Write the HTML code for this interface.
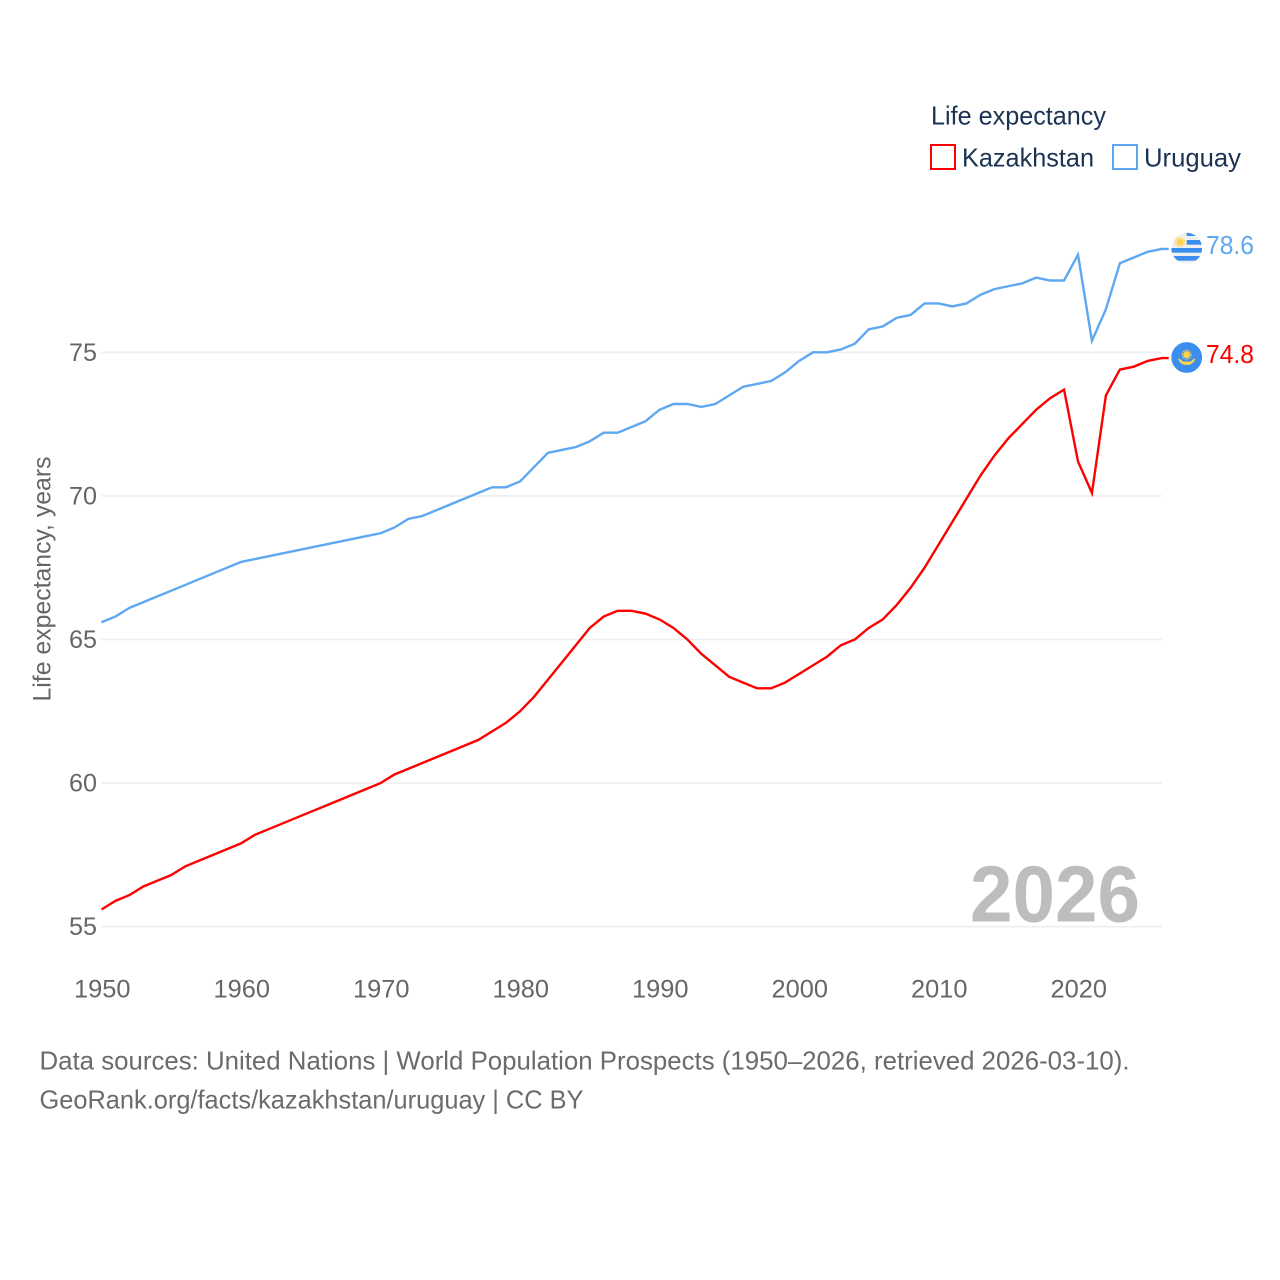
<!DOCTYPE html>
<html lang="en">
<head>
<meta charset="utf-8">
<title>Life expectancy: Kazakhstan and Uruguay</title>
<style>
html,body{margin:0;padding:0;background:#fff;width:1280px;height:1280px;overflow:hidden}
svg{display:block}
text{font-family:"Liberation Sans",sans-serif}
</style>
</head>
<body>
<svg id="chart" xmlns="http://www.w3.org/2000/svg" width="1280" height="1280" viewBox="0 0 1280 1280">
  <defs>
    <clipPath id="flag-clip-uy"><circle cx="1186.7" cy="248.2" r="15.4"></circle></clipPath>
  </defs>
  <g id="grid"></g>
  <g id="yticks"></g>
  <g id="xticks"></g>
  <text transform="translate(50.5,579) rotate(-90)" text-anchor="middle" font-size="25" fill="#666666" textLength="245" lengthAdjust="spacingAndGlyphs">Life expectancy, years</text>
  <text id="year-label" x="970" y="921.5" font-size="80" font-weight="bold" fill="#bdbdbd" textLength="170" lengthAdjust="spacingAndGlyphs"></text>
  <g id="series"></g>

  <g>
    <text x="931" y="124.5" font-size="26" fill="#1a3352" textLength="175" lengthAdjust="spacingAndGlyphs">Life expectancy</text>
    <g>
      <rect x="931" y="145" width="24" height="24" fill="none" stroke="#ff0000" stroke-width="2"></rect>
      <text x="962" y="166.5" font-size="26" fill="#1a3352" textLength="132" lengthAdjust="spacingAndGlyphs">Kazakhstan</text>
    </g>
    <g>
      <rect x="1113" y="145" width="24" height="24" fill="none" stroke="#5ea8f2" stroke-width="2"></rect>
      <text x="1144" y="166.5" font-size="26" fill="#1a3352" textLength="97" lengthAdjust="spacingAndGlyphs">Uruguay</text>
    </g>
  </g>

  <g clip-path="url(#flag-clip-uy)">
    <rect x="1171" y="232" width="32" height="33" fill="#f0f0f0"></rect>
    <rect x="1186.7" y="232" width="17" height="4" fill="#3b8eee"></rect>
    <rect x="1186.7" y="240" width="17" height="4.7" fill="#3b8eee"></rect>
    <rect x="1171" y="248" width="32" height="4.7" fill="#3b8eee"></rect>
    <rect x="1171" y="256" width="32" height="4.7" fill="#3b8eee"></rect>
    <circle cx="1180" cy="242.3" r="3.6" fill="#ffd34d"></circle>
    <circle cx="1180" cy="242.3" r="4.6" fill="none" stroke="#ffd34d" stroke-width="1.2" stroke-dasharray="1.4 1"></circle>
  </g>
  <g>
    <circle cx="1186.7" cy="357.5" r="15.4" fill="#3b8eee"></circle>
    <circle cx="1186.7" cy="354.7" r="3.4" fill="#ffd34d"></circle>
    <circle cx="1186.7" cy="354.7" r="4.4" fill="none" stroke="#ffd34d" stroke-width="1.2" stroke-dasharray="1.4 1"></circle>
    <path d="M1178 358.5 Q1181 359 1182.5 361.5 L1191 361.5 Q1192.5 359 1195.5 358.5 Q1193 365 1186.7 365 Q1180 365 1178 358.5Z" fill="#ffd34d"></path>
  </g>

  <g id="end-labels"></g>

  <g>
    <text x="39.5" y="1069.5" font-size="26" fill="#6b6b6b" textLength="1090" lengthAdjust="spacingAndGlyphs">Data sources: United Nations | World Population Prospects (1950–2026, retrieved 2026-03-10).</text>
    <text x="39.5" y="1108.5" font-size="26" fill="#6b6b6b" textLength="544" lengthAdjust="spacingAndGlyphs">GeoRank.org/facts/kazakhstan/uruguay | CC BY</text>
  </g>
</svg>
<script>
const firstYear = 1950;
const kazakhstan = [55.6,55.9,56.1,56.4,56.6,56.8,57.1,57.3,57.5,57.7,57.9,58.2,58.4,58.6,58.8,59.0,59.2,59.4,59.6,59.8,60.0,60.3,60.5,60.7,60.9,61.1,61.3,61.5,61.8,62.1,62.5,63.0,63.6,64.2,64.8,65.4,65.8,66.0,66.0,65.9,65.7,65.4,65.0,64.5,64.1,63.7,63.5,63.3,63.3,63.5,63.8,64.1,64.4,64.8,65.0,65.4,65.7,66.2,66.8,67.5,68.3,69.1,69.9,70.7,71.4,72.0,72.5,73.0,73.4,73.7,71.2,70.1,73.5,74.4,74.5,74.7,74.8];
const uruguay = [65.6,65.8,66.1,66.3,66.5,66.7,66.9,67.1,67.3,67.5,67.7,67.8,67.9,68.0,68.1,68.2,68.3,68.4,68.5,68.6,68.7,68.9,69.2,69.3,69.5,69.7,69.9,70.1,70.3,70.3,70.5,71.0,71.5,71.6,71.7,71.9,72.2,72.2,72.4,72.6,73.0,73.2,73.2,73.1,73.2,73.5,73.8,73.9,74.0,74.3,74.7,75.0,75.0,75.1,75.3,75.8,75.9,76.2,76.3,76.7,76.7,76.6,76.7,77.0,77.2,77.3,77.4,77.6,77.5,77.5,78.4,75.4,76.5,78.1,78.3,78.5,78.6];
const yTicks = [55,60,65,70,75];
const xTicks = [1950,1960,1970,1980,1990,2000,2010,2020];

const NS = 'http://www.w3.org/2000/svg';
const xScale = function (year) { return 101.5 + (year - 1950) * 13.95; };
const yScale = function (value) { return 926.7 - (value - 55) * 28.72; };
const lastYear = firstYear + kazakhstan.length - 1;

function make(tag, attrs, parent) {
  const el = document.createElementNS(NS, tag);
  Object.keys(attrs).forEach(function (k) { el.setAttribute(k, attrs[k]); });
  parent.appendChild(el);
  return el;
}

const grid = document.getElementById('grid');
const yGroup = document.getElementById('yticks');
yTicks.forEach(function (v) {
  const line = make('line', {x1: 101.5, x2: 1162, y1: yScale(v), y2: yScale(v), stroke: '#eeeeee', 'stroke-width': 1.6}, grid);
  
  
  const label = make('text', {x: 97, y: yScale(v) + 8.5, 'text-anchor': 'end', 'font-size': 25, fill: '#666666', textLength: 28, lengthAdjust: 'spacingAndGlyphs'}, yGroup);
  label.textContent = String(v);
  
  
});

const xGroup = document.getElementById('xticks');
xTicks.forEach(function (y) {
  const label = make('text', {x: xScale(y) - 27.5, y: 997.5, 'font-size': 25, fill: '#666666', textLength: 56.5, lengthAdjust: 'spacingAndGlyphs'}, xGroup);
  label.textContent = String(y);
  
  
});

const seriesGroup = document.getElementById('series');
const endGroup = document.getElementById('end-labels');

function drawSeries(values, color, key) {
  const pts = values.map(function (v, i) {
    return xScale(firstYear + i).toFixed(2) + ',' + yScale(v).toFixed(2);
  });
  const lastValue = values[values.length - 1];
  pts.push((xScale(lastYear) + 7).toFixed(2) + ',' + yScale(lastValue).toFixed(2));
  const line = make('polyline', {points: pts.join(' '), fill: 'none', stroke: color, 'stroke-width': 2.4, 'stroke-linejoin': 'miter'}, seriesGroup);
  
  
  const label = make('text', {x: 1206, y: yScale(lastValue) + 5, 'font-size': 26, fill: color, textLength: 48, lengthAdjust: 'spacingAndGlyphs'}, endGroup);
  label.textContent = lastValue.toFixed(1);
  
  
}
drawSeries(kazakhstan, '#ff0000', 'kazakhstan');
drawSeries(uruguay, '#5ea8f2', 'uruguay');

document.getElementById('year-label').textContent = String(lastYear);
</script>
</body>
</html>
